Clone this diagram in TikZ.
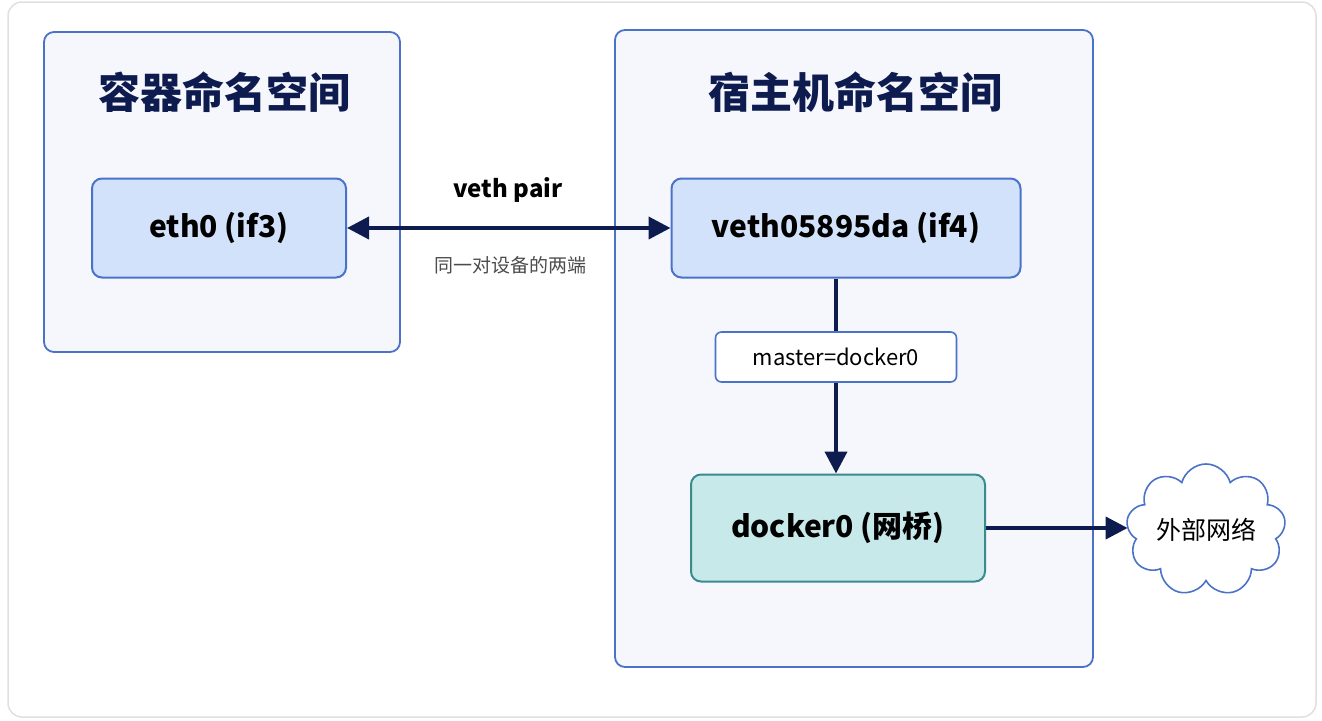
\documentclass[tikz,border=0pt]{standalone}
\usepackage{fontspec}
\setmainfont{Noto Sans CJK SC}
\usetikzlibrary{shapes.symbols,arrows.meta}
\definecolor{navy}{HTML}{0D1B4F}
\definecolor{bord}{HTML}{4A72C8}
\definecolor{nsfill}{HTML}{F5F7FD}
\definecolor{ifill}{HTML}{D3E2FB}
\definecolor{tfill}{HTML}{C7E9EA}
\definecolor{tbord}{HTML}{3A8A90}
\tikzset{
 ns/.style={draw=bord,fill=nsfill,line width=1.8pt,rounded corners=10pt},
 iface/.style={draw=bord,fill=ifill,line width=2pt,rounded corners=10pt,font=\fontsize{30}{34}\selectfont\bfseries,text=black},
 lnk/.style={draw=navy,line width=4pt,-{Triangle[length=22pt,width=22pt]}},
}
\begin{document}
\begin{tikzpicture}[x=1pt,y=-1pt]
\useasboundingbox (0,0) rectangle (1322,720);
\draw[draw=black!12,fill=white,line width=1.5pt,rounded corners=14pt] (8,2) rectangle (1316,717);
\draw[ns] (44,32) rectangle (400,352);
\draw[ns] (615,30) rectangle (1093,667);
\node[font=\fontsize{42}{48}\selectfont\bfseries,text=navy] (t1) at (224,92) {容器命名空间};
\node[font=\fontsize{42}{48}\selectfont\bfseries,text=navy] (t2) at (855,92) {宿主机命名空间};
\node[iface,minimum width=254pt,minimum height=99pt] (eth) at (219,228) {eth0 (if3)};
\node[iface,minimum width=349pt,minimum height=99pt] (veth) at (846,228) {veth05895da (if4)};
\node[draw=bord,fill=white,line width=1.6pt,rounded corners=6pt,minimum width=241pt,minimum height=50pt,font=\fontsize{22}{26}\selectfont] (m) at (836,357) {master=docker0};
\node[iface,draw=tbord,fill=tfill,minimum width=294pt,minimum height=107pt] (dk) at (838,528) {docker0 (网桥)};
\node[cloud,cloud puffs=9,aspect=1.4,draw=bord,fill=white,line width=1.6pt,minimum width=155pt,minimum height=112pt,inner sep=0pt,font=\fontsize{25}{28}\selectfont] (net) at (1206,530) {外部网络};
\draw[navy,line width=4pt,{Triangle[length=22pt,width=22pt]}-{Triangle[length=22pt,width=22pt]}] (eth.east) -- (veth.west);
\node[font=\fontsize{24}{28}\selectfont\bfseries] (vp) at (508,190) {veth pair};
\node[font=\fontsize{19}{22}\selectfont,text=black!70] (sub) at (510,265) {同一对设备的两端};
\draw[navy,line width=4pt] (veth.south -| m.north) -- (m.north);
\draw[lnk] (m.south) -- (dk.north -| m.south);
\draw[lnk] (dk.east |- 0,528) -- (net.west |- 0,528);
\end{tikzpicture}
\end{document}
